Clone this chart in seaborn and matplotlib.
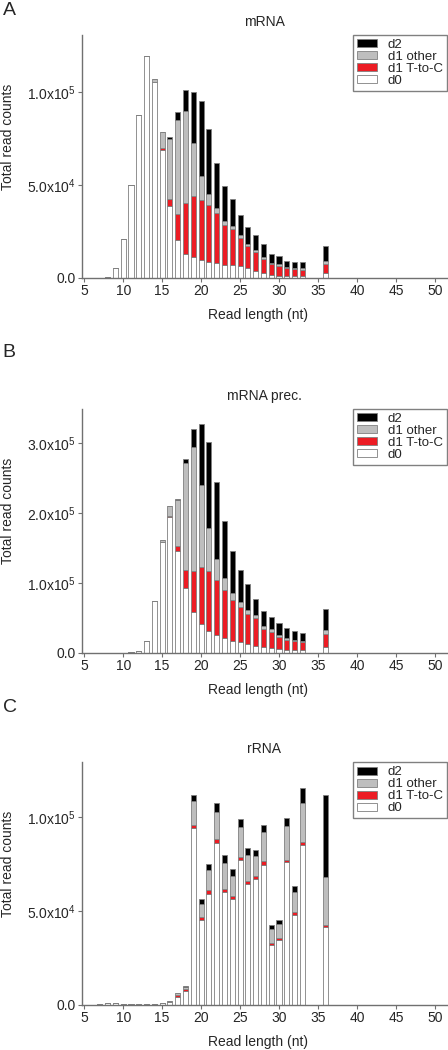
import matplotlib
matplotlib.use('Agg')
import matplotlib.pyplot as plt
from matplotlib.patches import Patch
import pandas as pd
import seaborn as sns


LEVELS = ['d2', 'd1 other', 'd1 T-to-C', 'd0']
COLORS = {'d2': '#000000', 'd1 other': '#bebebe',
          'd1 T-to-C': '#ec1c24', 'd0': '#ffffff'}

# panel A: mRNA
MRNA_LEN = list(range(8, 37))
MRNA_D0 = [300, 5200, 20700, 49600, 87500, 119000, 105400, 68800, 38400,
           20200, 13000, 11000, 9800, 8600, 7700, 7100, 6600, 6300, 5000,
           3600, 2300, 1400, 1100, 900, 900, 900, 0, 0, 2300]
MRNA_TC = [0, 0, 0, 0, 0, 0, 0, 900, 4100, 14300, 27300, 33200, 32100,
           30700, 27000, 21300, 19500, 15200, 12100, 10500, 8000, 6000,
           5400, 4100, 3800, 3400, 0, 0, 5200]
MRNA_OTHER = [0, 0, 0, 0, 0, 0, 1400, 8600, 32300, 50500, 49100, 28200,
              12700, 5700, 2900, 2000, 1600, 1600, 900, 900, 700, 600, 700,
              600, 600, 900, 0, 0, 1400]
MRNA_D2 = [0, 0, 0, 0, 0, 0, 0, 0, 700, 4300, 11600, 27500, 40400, 34800,
           23900, 19100, 14500, 10900, 9500, 8000, 6900, 4800, 4700, 3600,
           3400, 3200, 0, 0, 7900]

# panel B: mRNA prec.
PREC_LEN = list(range(11, 37))
PREC_D0 = [300, 1800, 16300, 74000, 159000, 194000, 145500, 92300, 58400,
           41100, 30600, 25800, 21500, 17200, 16000, 13000, 10000, 7700,
           6200, 4800, 3800, 3800, 3300, 0, 0, 7700]
PREC_TC = [0, 0, 0, 0, 0, 1400, 7200, 26800, 57900, 81800, 86100, 78500,
           68400, 58400, 50000, 42000, 39000, 26000, 24000, 18000, 14400,
           12400, 12000, 0, 0, 19000]
PREC_OTHER = [0, 600, 0, 0, 3000, 15300, 66500, 152000, 178000, 117000,
              61200, 29700, 17700, 10500, 7200, 6600, 5500, 4800, 3300,
              2900, 2400, 1900, 1900, 0, 0, 5700]
PREC_D2 = [0, 0, 0, 0, 0, 0, 1000, 6200, 26300, 87100, 124400, 110000,
           80400, 59300, 45000, 37000, 22500, 21500, 18000, 16500, 14400,
           12900, 11000, 0, 0, 29700]

# panel C: rRNA
RRNA_LEN = list(range(7, 37))
RRNA_D0 = [360, 890, 890, 360, 360, 180, 360, 360, 700, 1200, 4100, 7300,
           94500, 45000, 59300, 86500, 60000, 56400, 77000, 64600, 67100,
           74700, 32000, 34500, 76000, 48000, 85000, 0, 0, 41300]
RRNA_TC = [0, 0, 0, 0, 0, 0, 0, 0, 0, 200, 1250, 1070, 1400, 1600, 2000,
           2100, 1600, 1400, 1600, 1400, 1400, 1800, 1100, 900, 1200, 1200,
           1600, 0, 0, 1400]
RRNA_OTHER = [0, 0, 0, 0, 0, 0, 0, 0, 190, 400, 900, 1100, 13000, 7300,
              10300, 14400, 14200, 11000, 16200, 14100, 11000, 15700, 7300,
              7500, 18300, 10900, 21000, 0, 0, 25300]
RRNA_D2 = [0, 0, 0, 0, 0, 0, 0, 0, 0, 200, 200, 500, 2700, 2300, 3700,
           4400, 3900, 3400, 4300, 3600, 2800, 3700, 2100, 2500, 4300, 3400,
           8000, 0, 0, 43800]

PANELS = [
    ('A', 'mRNA', MRNA_LEN, MRNA_D0, MRNA_TC, MRNA_OTHER, MRNA_D2,
     1.305e5, [0, 5e4, 1e5], ['0.0', '5.0x10$^{4}$', '1.0x10$^{5}$']),
    ('B', 'mRNA prec.', PREC_LEN, PREC_D0, PREC_TC, PREC_OTHER, PREC_D2,
     3.49e5, [0, 1e5, 2e5, 3e5],
     ['0.0', '1.0x10$^{5}$', '2.0x10$^{5}$', '3.0x10$^{5}$']),
    ('C', 'rRNA', RRNA_LEN, RRNA_D0, RRNA_TC, RRNA_OTHER, RRNA_D2,
     1.293e5, [0, 5e4, 1e5], ['0.0', '5.0x10$^{4}$', '1.0x10$^{5}$']),
]

# axes boxes in figure fractions (left, bottom, width, height)
BOXES = [(0.1837, 0.7355, 0.813, 0.2311),
         (0.1837, 0.3784, 0.813, 0.2321),
         (0.1837, 0.0431, 0.813, 0.2309)]
LETTER_Y = [1 - 2 / 1050, 1 - 344 / 1050, 1 - 699 / 1050]


def to_long(lengths, d0, tc, other, d2):
    rows = []
    for name, vals in zip(LEVELS, [d2, other, tc, d0]):
        for length, v in zip(lengths, vals):
            if v > 0:
                rows.append((length, name, v))
    return pd.DataFrame(rows, columns=['length', 'class', 'count'])


sns.set_style('ticks')
plt.rcParams['font.family'] = ['Liberation Sans', 'DejaVu Sans']
plt.rcParams['mathtext.fontset'] = 'custom'
plt.rcParams['mathtext.rm'] = 'Liberation Sans'
plt.rcParams['mathtext.it'] = 'Liberation Sans:italic'
plt.rcParams['mathtext.bf'] = 'Liberation Sans:bold'

fig = plt.figure(figsize=(4.48, 10.5), dpi=100)
SPINE = '#707070'

for (letter, title, lens, d0, tc, other, d2, ytop, yticks, ylabels), box, ly \
        in zip(PANELS, BOXES, LETTER_Y):
    ax = fig.add_axes(box)
    df = to_long(lens, d0, tc, other, d2)
    sns.histplot(data=df, x='length', hue='class', weights='count',
                 hue_order=LEVELS, palette=COLORS, multiple='stack',
                 discrete=True, shrink=0.65, alpha=1,
                 edgecolor='#808080', linewidth=0.6, legend=False, ax=ax)

    ax.set_xlim(4.75, 51.5)
    ax.set_ylim(0, ytop)
    ax.set_xticks(range(5, 51, 5))
    ax.set_yticks(yticks)
    ax.set_yticklabels(ylabels)
    sns.despine(ax=ax)
    for side in ['left', 'bottom']:
        ax.spines[side].set_color(SPINE)
        ax.spines[side].set_linewidth(1.0)
    ax.tick_params(direction='out', length=3, width=0.8, color=SPINE,
                   labelsize=10, pad=1.5)

    ax.set_xlabel('Read length (nt)', fontsize=10)
    ax.xaxis.set_label_coords(0.482, -0.125)
    ax.set_ylabel('Total read counts', fontsize=10)
    ax.yaxis.set_label_coords(-0.185, 0.58)
    ax.set_title(title, fontsize=10, y=1.037, pad=0)

    handles = [Patch(facecolor=COLORS[k], edgecolor='#808080', linewidth=0.6,
                     label=k) for k in LEVELS]
    leg = ax.legend(handles=handles, loc='upper right',
                    bbox_to_anchor=(1.0, 1.0), borderaxespad=0,
                    frameon=True, fancybox=False, framealpha=1,
                    edgecolor='#808080', fontsize=9.5, handlelength=1.5,
                    handleheight=0.55, labelspacing=0.0, handletextpad=0.8,
                    borderpad=0.3)
    leg.get_frame().set_linewidth(1.0)

    fig.text(0.006, ly, letter, fontsize=14, va='top', ha='left')

fig.savefig('out.png', dpi=100)
plt.close(fig)
